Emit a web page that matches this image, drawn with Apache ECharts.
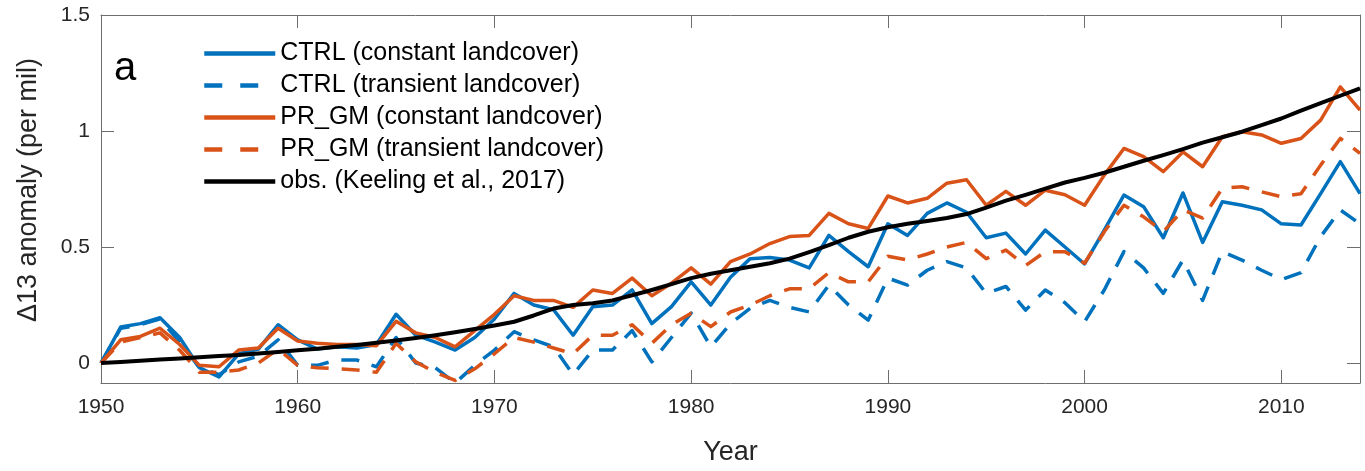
<!DOCTYPE html>
<html>
<head>
<meta charset="utf-8">
<script src="https://cdn.jsdelivr.net/npm/echarts@6/dist/echarts.min.js"></script>
<style>
html,body{margin:0;padding:0;background:#fff;}
#chart{width:1365px;height:471px;}
</style>
</head>
<body>
<div id="chart"></div>
<script>
const years = [1950,1951,1952,1953,1954,1955,1956,1957,1958,1959,1960,1961,1962,1963,1964,1965,1966,1967,1968,1969,1970,1971,1972,1973,1974,1975,1976,1977,1978,1979,1980,1981,1982,1983,1984,1985,1986,1987,1988,1989,1990,1991,1992,1993,1994,1995,1996,1997,1998,1999,2000,2001,2002,2003,2004,2005,2006,2007,2008,2009,2010,2011,2012,2013,2014];

const ctrlConst = [0.00,0.155,0.17,0.195,0.11,-0.02,-0.06,0.04,0.06,0.165,0.10,0.06,0.07,0.065,0.08,0.21,0.12,0.09,0.056,0.11,0.19,0.30,0.25,0.23,0.12,0.243,0.25,0.315,0.17,0.243,0.35,0.25,0.37,0.45,0.455,0.444,0.41,0.55,0.48,0.415,0.60,0.55,0.645,0.69,0.65,0.54,0.56,0.47,0.573,0.50,0.427,0.573,0.724,0.674,0.54,0.733,0.52,0.695,0.68,0.66,0.60,0.595,0.73,0.868,0.73];

const ctrlTrans = [0.00,0.15,0.165,0.19,0.09,-0.02,-0.05,0.005,0.03,0.10,-0.01,-0.01,0.013,0.013,-0.016,0.11,0.0,-0.02,-0.086,-0.01,0.056,0.135,0.10,0.07,-0.05,0.056,0.056,0.14,0.005,0.11,0.215,0.07,0.17,0.236,0.27,0.24,0.22,0.336,0.25,0.185,0.366,0.336,0.40,0.437,0.41,0.30,0.33,0.228,0.315,0.26,0.178,0.315,0.48,0.41,0.30,0.444,0.27,0.48,0.444,0.40,0.36,0.39,0.545,0.66,0.60];

const prgmConst = [0.00,0.10,0.115,0.15,0.08,-0.01,-0.016,0.056,0.065,0.15,0.095,0.085,0.08,0.08,0.075,0.18,0.13,0.11,0.07,0.14,0.21,0.29,0.27,0.27,0.24,0.315,0.30,0.366,0.29,0.344,0.41,0.34,0.437,0.47,0.515,0.545,0.55,0.645,0.60,0.58,0.72,0.69,0.71,0.775,0.79,0.68,0.74,0.68,0.745,0.725,0.68,0.81,0.925,0.89,0.825,0.91,0.846,0.975,0.997,0.983,0.947,0.968,1.047,1.19,1.09];

const prgmTrans = [0.00,0.09,0.11,0.13,0.055,-0.04,-0.04,-0.03,0.0,0.06,-0.01,-0.02,-0.025,-0.03,-0.04,0.085,0.005,-0.04,-0.075,-0.025,0.04,0.11,0.09,0.065,0.04,0.12,0.12,0.165,0.085,0.165,0.215,0.157,0.22,0.25,0.29,0.32,0.32,0.39,0.35,0.35,0.46,0.444,0.47,0.50,0.52,0.45,0.487,0.42,0.48,0.48,0.43,0.566,0.68,0.63,0.566,0.66,0.625,0.753,0.76,0.738,0.717,0.73,0.853,0.968,0.904];

const obs = [0.000,0.005,0.010,0.015,0.020,0.025,0.030,0.035,0.041,0.048,0.055,0.062,0.070,0.078,0.087,0.097,0.108,0.120,0.133,0.147,0.162,0.178,0.205,0.235,0.250,0.258,0.270,0.292,0.315,0.340,0.366,0.385,0.400,0.415,0.430,0.450,0.478,0.508,0.540,0.566,0.585,0.600,0.612,0.625,0.642,0.670,0.700,0.725,0.752,0.778,0.798,0.820,0.846,0.872,0.896,0.922,0.950,0.973,0.997,1.025,1.054,1.088,1.120,1.152,1.184];

const xTicks = [1950,1960,1970,1980,1990,2000,2010];
const yTicks = [0,0.5,1,1.5];

const seriesNames = ['CTRL (constant landcover)','CTRL (transient landcover)','PR_GM (constant landcover)','PR_GM (transient landcover)','obs. (Keeling et al., 2017)'];

const BLUE = '#0072BD', ORANGE = '#D95319', BLACK = '#000000';
const TXT = '#262626', AX = '#6e6e6e';
const FONT = '"Liberation Sans", Arial, Helvetica, sans-serif';
const DASH = [18, 13];
const LEGEND_DASH = [18, 18];

function pairs(vals){ return years.map((y,i)=>[y, vals[i]]); }

function mkSeries(name, vals, color, dashed, width){
  return {
    name: name, type: 'line', data: pairs(vals), symbol: 'none', showSymbol: false, smooth: false,
    lineStyle: {color: color, width: width, type: dashed ? DASH : 'solid', cap: 'butt', join: 'round'},
    itemStyle: {color: color},
    emphasis: {disabled: true}, animation: false, z: 3
  };
}

const chart = echarts.init(document.getElementById('chart'), null, {renderer: 'canvas'});
const axisLineStyle = {color: AX, width: 1};

chart.setOption({
  animation: false,
  backgroundColor: '#ffffff',
  grid: {left: 101, right: 5, top: 15, bottom: 88, containLabel: false},
  title: {text: 'a', left: 109, top: 44, textStyle: {fontFamily: FONT, fontSize: 40, fontWeight: 'normal', color: '#000'}},
  legend: {
    orient: 'vertical', left: 197, top: 36, selectedMode: false,
    itemWidth: 71, itemHeight: 14, itemGap: 7,
    itemStyle: {opacity: 0, borderWidth: 0},
    lineStyle: {width: 4.5},
    data: [
      {name: seriesNames[0]},
      {name: seriesNames[1], lineStyle: {type: LEGEND_DASH, width: 4.5}},
      {name: seriesNames[2]},
      {name: seriesNames[3], lineStyle: {type: LEGEND_DASH, width: 4.5}},
      {name: seriesNames[4]}
    ],
    textStyle: {fontFamily: FONT, fontSize: 25, color: '#000', lineHeight: 25}
  },
  graphic: [{
    type: 'text', x: 29, y: 190, rotation: Math.PI / 2,
    style: {text: 'Δ13 anomaly (per mil)', font: '27px "Liberation Sans", Arial, sans-serif', fill: TXT, align: 'center', verticalAlign: 'middle'}
  }],
  xAxis: [{
    type: 'value', min: 1950, max: 2014, position: 'bottom',
    name: 'Year', nameLocation: 'middle', nameGap: 56,
    nameTextStyle: {fontFamily: FONT, fontSize: 27, color: TXT},
    axisLine: {show: true, onZero: false, lineStyle: axisLineStyle},
    axisTick: {show: true, inside: true, length: 13, customValues: xTicks, lineStyle: axisLineStyle},
    axisLabel: {show: true, customValues: xTicks, margin: 14, fontFamily: FONT, fontSize: 21, color: TXT, formatter: v => String(v)},
    splitLine: {show: false}
  },{
    type: 'value', min: 1950, max: 2014, position: 'top',
    axisLine: {show: true, onZero: false, lineStyle: axisLineStyle},
    axisTick: {show: true, inside: true, length: 13, customValues: xTicks, lineStyle: axisLineStyle},
    axisLabel: {show: false}, splitLine: {show: false}
  }],
  yAxis: [{
    type: 'value', min: -0.086, max: 1.5, position: 'left',
    axisLine: {show: true, onZero: false, lineStyle: axisLineStyle},
    axisTick: {show: true, inside: true, length: 13, customValues: yTicks, lineStyle: axisLineStyle},
    axisLabel: {show: true, customValues: yTicks, margin: 11, fontFamily: FONT, fontSize: 21, color: TXT, formatter: v => String(v)},
    splitLine: {show: false}
  },{
    type: 'value', min: -0.086, max: 1.5, position: 'right',
    axisLine: {show: true, onZero: false, lineStyle: axisLineStyle},
    axisTick: {show: true, inside: true, length: 13, customValues: yTicks, lineStyle: axisLineStyle},
    axisLabel: {show: false}, splitLine: {show: false}
  }],
  series: [
    mkSeries(seriesNames[0], ctrlConst, BLUE, false, 3.5),
    mkSeries(seriesNames[1], ctrlTrans, BLUE, true, 3.5),
    mkSeries(seriesNames[2], prgmConst, ORANGE, false, 3.5),
    mkSeries(seriesNames[3], prgmTrans, ORANGE, true, 3.5),
    mkSeries(seriesNames[4], obs, BLACK, false, 4)
  ]
});
</script>
</body>
</html>
